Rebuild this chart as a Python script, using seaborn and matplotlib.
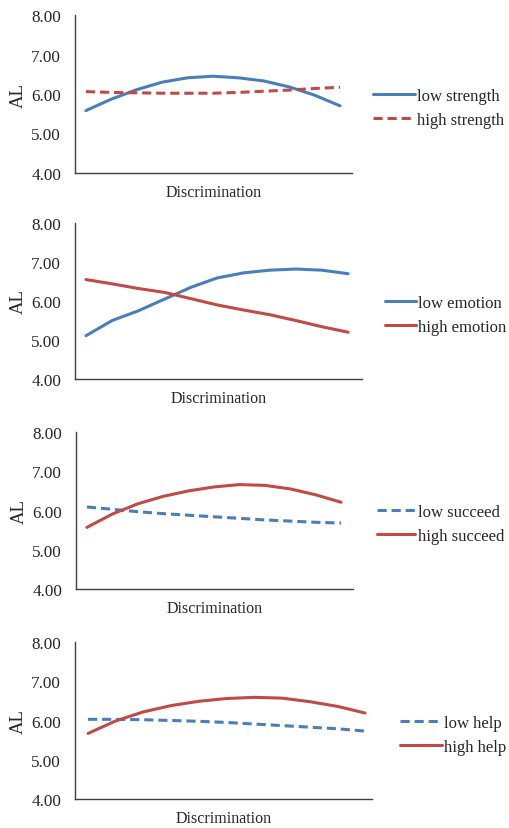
import matplotlib
matplotlib.use("Agg")
import matplotlib.pyplot as plt
import seaborn as sns
import pandas as pd
import numpy as np

# ---- data ----
x_pos = [0, 1, 2, 3, 4, 5, 6, 7, 8, 9, 10]

low_strength = [5.58, 5.87, 6.11, 6.30, 6.41, 6.45, 6.41, 6.33, 6.18, 5.97, 5.70]
high_strength = [6.06, 6.04, 6.03, 6.02, 6.02, 6.02, 6.04, 6.07, 6.10, 6.14, 6.17]

low_emotion = [5.11, 5.50, 5.75, 6.05, 6.35, 6.59, 6.72, 6.79, 6.82, 6.79, 6.70]
high_emotion = [6.55, 6.44, 6.32, 6.22, 6.06, 5.90, 5.77, 5.65, 5.50, 5.34, 5.20]

low_succeed = [6.09, 6.03, 5.97, 5.92, 5.88, 5.84, 5.80, 5.76, 5.73, 5.70, 5.68]
high_succeed = [5.57, 5.91, 6.17, 6.36, 6.50, 6.60, 6.66, 6.64, 6.55, 6.40, 6.21]

low_help = [6.03, 6.03, 6.02, 6.00, 5.98, 5.95, 5.91, 5.87, 5.83, 5.79, 5.73]
high_help = [5.67, 5.99, 6.22, 6.38, 6.49, 6.56, 6.59, 6.57, 6.48, 6.36, 6.19]

y_ticks = [4.0, 5.0, 6.0, 7.0, 8.0]
x_label = "Discrimination"
y_label = "AL"

BLUE = "#4A7EBB"
RED = "#BE4B48"
DASH = (3, 1.6)

panels = [
    # (labels, series, colors, dashes, axes rect px (l, r, top, bottom), xlim, legend (x, y center, handlelength))
    (("low strength", "high strength"), (low_strength, high_strength), (BLUE, RED), ("", DASH),
     (75, 352, 16, 174), (-0.43, 10.47), (373, 109, 2.5)),
    (("low emotion", "high emotion"), (low_emotion, high_emotion), (BLUE, RED), ("", ""),
     (75, 362, 224, 380), (-0.42, 10.53), (385, 316, 1.85)),
    (("low succeed", "high succeed"), (low_succeed, high_succeed), (BLUE, RED), (DASH, ""),
     (76, 353, 433, 590), (-0.43, 10.47), (377, 525, 2.3)),
    (("low help", "high help"), (low_help, high_help), (BLUE, RED), (DASH, ""),
     (75, 372, 643, 800), (-0.47, 10.25), (400, 736, 2.5)),
]

sns.set_theme(style="white")
plt.rcParams["font.family"] = ["Liberation Serif", "DejaVu Serif"]

W, H = 510, 829
fig = plt.figure(figsize=(W / 100, H / 100), dpi=100)

for labels, series, colors, dashes, rect, xlim, leg in panels:
    l, r, t, b = rect
    ax = fig.add_axes([l / W, 1 - b / H, (r - l) / W, (b - t) / H])
    df = pd.DataFrame({
        "x": x_pos * 2,
        "y": list(series[0]) + list(series[1]),
        "grp": [labels[0]] * len(x_pos) + [labels[1]] * len(x_pos),
    })
    sns.lineplot(data=df, x="x", y="y", hue="grp", style="grp",
                 palette={labels[0]: colors[0], labels[1]: colors[1]},
                 dashes={labels[0]: dashes[0], labels[1]: dashes[1]},
                 hue_order=list(labels), style_order=list(labels),
                 linewidth=2.2, ax=ax, legend=True)
    ax.set_xlim(*xlim)
    ax.set_ylim(4.0, 8.0)
    ax.set_yticks(y_ticks)
    ax.set_yticklabels([f"{v:.2f}" for v in y_ticks], fontsize=12.3)
    ax.set_xticks([])
    ax.tick_params(axis="y", length=0, pad=10)
    ax.set_xlabel(x_label, fontsize=11.5, labelpad=8)
    ax.set_ylabel(y_label, fontsize=13.5, labelpad=3)
    for s in ("top", "right"):
        ax.spines[s].set_visible(False)
    for s in ("left", "bottom"):
        ax.spines[s].set_color("#404040")
        ax.spines[s].set_linewidth(1.0)
    lx, ly, hl = leg
    sns.move_legend(ax, "center left", bbox_to_anchor=(lx / W, 1 - ly / H),
                    bbox_transform=fig.transFigure, title=None, frameon=False,
                    fontsize=12, handlelength=hl, handletextpad=0.15,
                    labelspacing=0.45, borderpad=0, borderaxespad=0)

fig.savefig("out.png", dpi=100)
